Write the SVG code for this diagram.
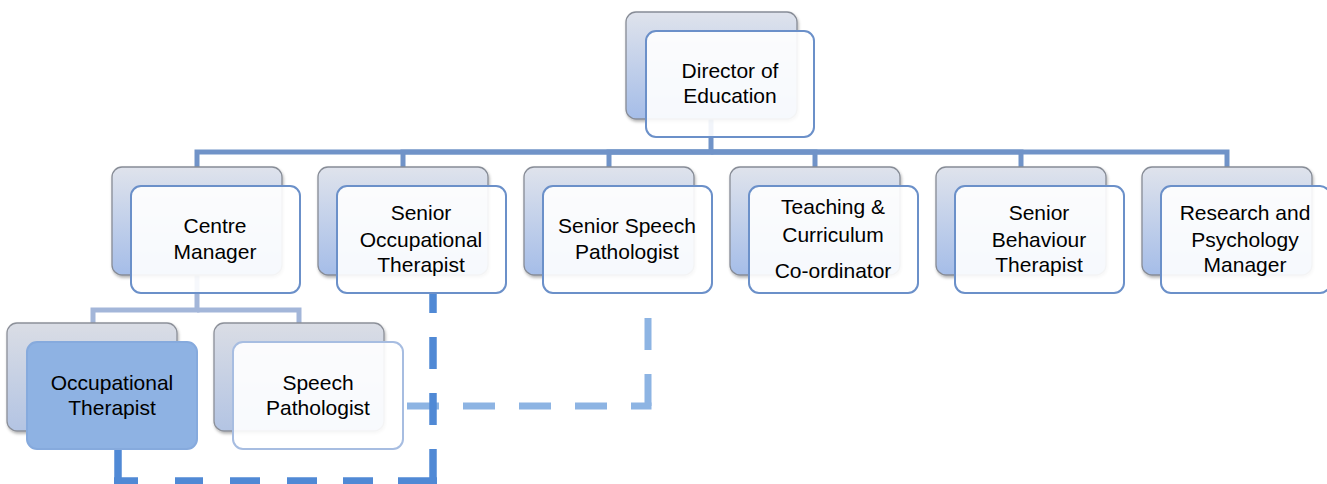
<svg xmlns="http://www.w3.org/2000/svg" width="1327" height="484" viewBox="0 0 1327 484">
<defs>
<linearGradient id="gBack" x1="0" y1="0" x2="0" y2="1">
<stop offset="0" stop-color="#dfe3ec"/>
<stop offset="1" stop-color="#a5bde8"/>
</linearGradient>
<linearGradient id="gBack3" x1="0" y1="0" x2="0" y2="1">
<stop offset="0" stop-color="#dadde5"/>
<stop offset="1" stop-color="#b3c4e3"/>
</linearGradient>
<filter id="sh" x="-10%" y="-10%" width="130%" height="130%">
<feDropShadow dx="1" dy="2" stdDeviation="1.6" flood-color="#000" flood-opacity="0.3"/>
</filter>
</defs>
<style>
.back{fill:url(#gBack);stroke:#878c96;stroke-width:1.3;filter:url(#sh)}
.back3{fill:url(#gBack3);stroke:#8c9099;stroke-width:1.3;filter:url(#sh)}
.front{fill:#ffffff;fill-opacity:0.9;stroke:#6b90c9;stroke-width:2}
.front3{fill:#ffffff;fill-opacity:0.9;stroke:#a7bde1;stroke-width:2}
.frontB{fill:#8eb2e3;stroke:#86aadd;stroke-width:2}
.con{fill:none;stroke:#7093c8;stroke-width:5}
.con3{fill:none;stroke:#a3b6d9;stroke-width:5}
.dk{fill:none;stroke:#5089d5;stroke-width:7.5}
.lt{fill:none;stroke:#8db4e3;stroke-width:7}
text{font-family:"Liberation Sans",Arial,sans-serif;font-size:21px;fill:#000;text-anchor:middle}
</style>
<g id="connectors">
<path class="con" d="M711,119 V152 H197 V167"/>
<path class="con" d="M711,152 H403 V167"/>
<path class="con" d="M711,152 H609 V167"/>
<path class="con" d="M711,152 H815 V167"/>
<path class="con" d="M711,152 H1021 V167"/>
<path class="con" d="M711,152 H1227 V167"/>
<path class="con3" d="M197,275 V310 H93 V323"/>
<path class="con3" d="M197,310 H299 V323"/>
<line class="lt" x1="648" y1="406" x2="648" y2="293" stroke-dasharray="32 24"/>
<line class="lt" x1="407" y1="406" x2="651.5" y2="406" stroke-dasharray="32 24"/>
<line class="dk" x1="433" y1="481" x2="433" y2="293" stroke-dasharray="32 24"/>
<line class="dk" x1="437" y1="481" x2="114" y2="481" stroke-dasharray="39 25 30 26 30 27 30 27 28 37 24"/>
<line class="dk" x1="118" y1="449" x2="118" y2="484.75"/>
</g>
<g id="director">
<rect class="back" x="626" y="12" width="171" height="107" rx="10"/>
<rect class="front" x="646" y="31" width="168" height="106" rx="10"/>
<text x="730" y="78">Director of</text>
<text x="730" y="103">Education</text>
</g>
<g id="centre-manager">
<rect class="back" x="112" y="167" width="170" height="108" rx="10"/>
<rect class="front" x="131" y="186" width="169" height="107" rx="10"/>
<text x="215" y="233">Centre</text>
<text x="215" y="259">Manager</text>
</g>
<g id="senior-ot">
<rect class="back" x="318" y="167" width="170" height="108" rx="10"/>
<rect class="front" x="337" y="186" width="169" height="107" rx="10"/>
<text x="421" y="220">Senior</text>
<text x="421" y="247">Occupational</text>
<text x="421" y="272">Therapist</text>
</g>
<g id="senior-speech">
<rect class="back" x="524" y="167" width="170" height="108" rx="10"/>
<rect class="front" x="543" y="186" width="169" height="107" rx="10"/>
<text x="627" y="233">Senior Speech</text>
<text x="627" y="259">Pathologist</text>
</g>
<g id="teaching">
<rect class="back" x="730" y="167" width="170" height="108" rx="10"/>
<rect class="front" x="749" y="186" width="169" height="107" rx="10"/>
<text x="833" y="214">Teaching &amp;</text>
<text x="833" y="242">Curriculum</text>
<text x="833" y="278">Co-ordinator</text>
</g>
<g id="senior-behaviour">
<rect class="back" x="936" y="167" width="170" height="108" rx="10"/>
<rect class="front" x="955" y="186" width="169" height="107" rx="10"/>
<text x="1039" y="220">Senior</text>
<text x="1039" y="247">Behaviour</text>
<text x="1039" y="272">Therapist</text>
</g>
<g id="research">
<rect class="back" x="1142" y="167" width="170" height="108" rx="10"/>
<rect class="front" x="1161" y="186" width="169" height="107" rx="10"/>
<text x="1245" y="220">Research and</text>
<text x="1245" y="247">Psychology</text>
<text x="1245" y="272">Manager</text>
</g>
<g id="occupational-therapist">
<rect class="back3" x="7" y="323" width="170" height="108" rx="10"/>
<rect class="frontB" x="27" y="342" width="170" height="107" rx="10"/>
<text x="112" y="390">Occupational</text>
<text x="112" y="415">Therapist</text>
</g>
<g id="speech-pathologist">
<rect class="back3" x="214" y="323" width="170" height="108" rx="10"/>
<rect class="front3" x="233" y="342" width="170" height="107" rx="10"/>
<text x="318" y="390">Speech</text>
<text x="318" y="415">Pathologist</text>
</g>
</svg>
